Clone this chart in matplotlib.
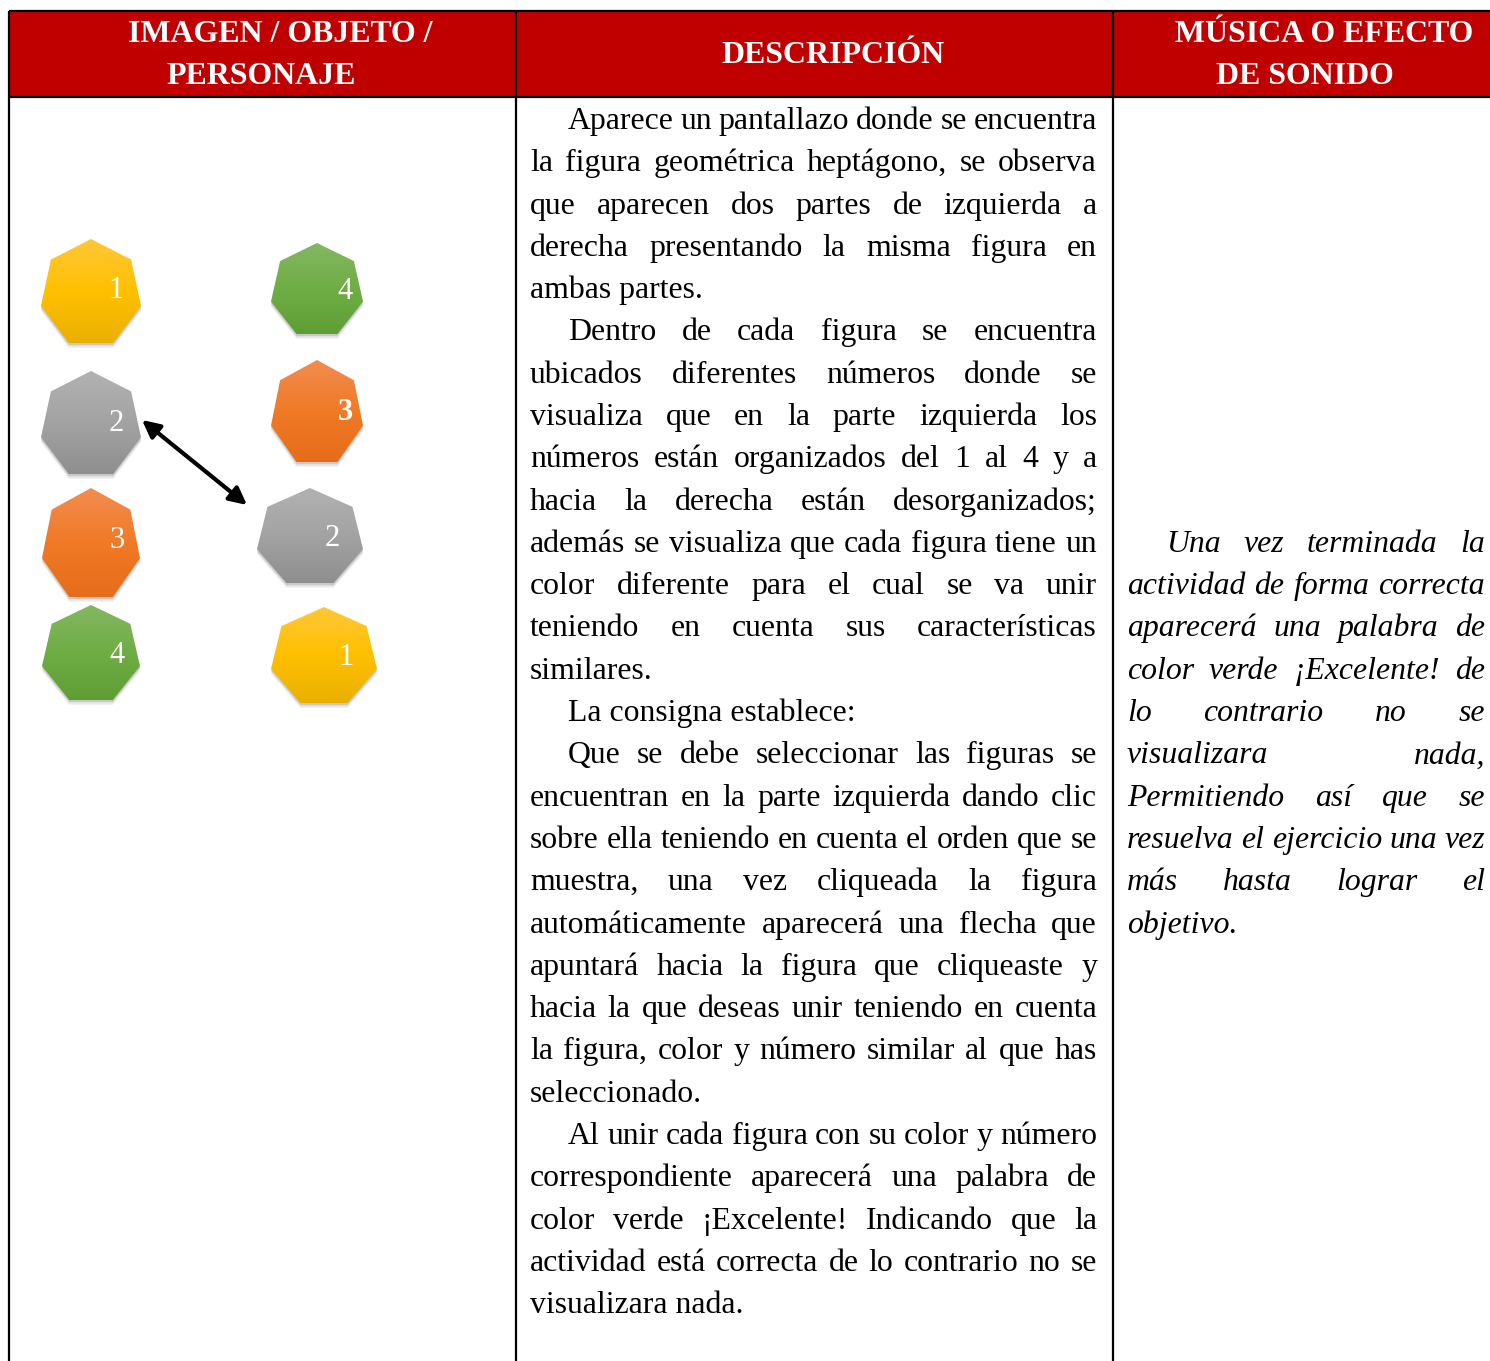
import numpy as np
import matplotlib
matplotlib.use("Agg")
import matplotlib.pyplot as plt
from matplotlib.patches import Polygon, Rectangle
from matplotlib.colors import LinearSegmentedColormap, to_rgb

W, H = 1490, 1361
FONT = "Liberation Serif"

HEADERS = [
    ["IMAGEN / OBJETO /", "PERSONAJE"],
    ["DESCRIPCIÓN"],
    ["MÚSICA O EFECTO", "DE SONIDO"],
]

DESCRIPTION = [
    ["Aparece un pantallazo donde se encuentra",
     "la figura geométrica heptágono, se observa",
     "que aparecen dos partes de izquierda a",
     "derecha presentando la misma figura en",
     "ambas partes."],
    ["Dentro de cada figura se encuentra",
     "ubicados diferentes números donde se",
     "visualiza que en la parte izquierda los",
     "números están organizados del 1 al 4 y a",
     "hacia la derecha están desorganizados;",
     "además se visualiza que cada figura tiene un",
     "color diferente para el cual se va unir",
     "teniendo en cuenta sus características",
     "similares."],
    ["La consigna establece:"],
    ["Que se debe seleccionar las figuras se",
     "encuentran en la parte izquierda dando clic",
     "sobre ella teniendo en cuenta el orden que se",
     "muestra, una vez cliqueada la figura",
     "automáticamente aparecerá una flecha que",
     "apuntará hacia la figura que cliqueaste y",
     "hacia la que deseas unir teniendo en cuenta",
     "la figura, color y número similar al que has",
     "seleccionado."],
    ["Al unir cada figura con su color y número",
     "correspondiente aparecerá una palabra de",
     "color verde ¡Excelente! Indicando que la",
     "actividad está correcta de lo contrario no se",
     "visualizara nada."],
]

EFFECT = [
    ["Una vez terminada la",
     "actividad de forma correcta",
     "aparecerá una palabra de",
     "color verde ¡Excelente! de",
     "lo contrario no se",
     "visualizara nada,",
     "Permitiendo así que se",
     "resuelva el ejercicio una vez",
     "más hasta lograr el",
     "objetivo."],
]

SHAPE_LABELS = ["1", "2", "3", "4", "4", "3", "2", "1"]
SHAPE_COLORS = ["yellow", "gray", "orange", "green", "green", "orange", "gray", "yellow"]
SHAPE_BOLD = [False, False, False, False, False, True, False, False]

# layout (pixels): left, top, right, bottom of each heptagon, label position
SHAPE_BOXES = [(41, 239, 141, 343), (41, 371, 141, 474), (42, 488, 140, 597), (42, 605, 140, 700),
               (271, 243, 363, 334), (271, 360, 363, 462), (257, 488, 363, 583), (271, 607, 377, 703)]
LABEL_POS = [(116, 290), (116, 423), (117, 540), (117, 655),
             (345, 291), (345, 412), (332, 538), (346, 657)]

GRADIENTS = {
    "yellow": ("#FFC73A", "#FFC000", "#E9B000"),
    "gray": ("#B2B2B2", "#A3A3A3", "#8E8E8E"),
    "orange": ("#F28D52", "#F07A26", "#E56C1A"),
    "green": ("#84B862", "#6FAD45", "#5E9C34"),
}

RED = "#C00000"
COL_X = [9, 516, 1113, 1490]
HEAD_TOP, HEAD_BOT = 11, 97
LINE_STEP = 42.29
FIRST_BASELINE = 129


def heptagon(l, t, r, b):
    rx = (r - l) / (2 * 0.9749)
    ry = (b - t) / (1 + np.cos(np.pi / 7))
    cx, cy = (l + r) / 2, t + ry
    ang = np.radians(90 + np.arange(7) * 360 / 7)
    return np.column_stack([cx + rx * np.cos(ang), cy - ry * np.sin(ang)])


def gradient_image(colors):
    cmap = LinearSegmentedColormap.from_list("g", [to_rgb(c) for c in colors])
    return cmap(np.linspace(0, 1, 100))[:, None, :]


def place_line(ax, renderer, text, x0, x1, y, justify, **kw):
    words = text.split()
    if not justify or len(words) < 2:
        ax.text(x0, y, text, ha="left", va="baseline", **kw)
        return
    items = [ax.text(0, y, w, ha="left", va="baseline", **kw) for w in words]
    widths = [t.get_window_extent(renderer).width for t in items]
    gap = (x1 - x0 - sum(widths)) / (len(words) - 1)
    x = x0
    for t, w in zip(items, widths):
        t.set_x(x)
        x += w + gap


def draw_paragraphs(ax, renderer, paragraphs, x0, x1, indent, first_line, **kw):
    i = first_line
    for para in paragraphs:
        for j, line in enumerate(para):
            start = x0 + (indent if j == 0 else 0)
            last = j == len(para) - 1
            place_line(ax, renderer, line, start, x1, FIRST_BASELINE + LINE_STEP * i, not last, **kw)
            i += 1


def fit_size(ax, renderer, text, target, **kw):
    t = ax.text(0, 0, text, fontsize=20, **kw)
    w = t.get_window_extent(renderer).width
    t.remove()
    return 20 * target / w


fig = plt.figure(figsize=(W / 100, H / 100), dpi=100)
ax = fig.add_axes([0, 0, 1, 1])
ax.set_xlim(0, W)
ax.set_ylim(H, 0)
ax.axis("off")
renderer = fig.canvas.get_renderer()

# header
ax.add_patch(Rectangle((COL_X[0], HEAD_TOP), COL_X[3] - COL_X[0], HEAD_BOT - HEAD_TOP,
                       facecolor=RED, edgecolor="none", zorder=1))
head_fs = fit_size(ax, renderer, "DESCRIPCIÓN", 222, family=FONT, weight="bold")
head_pos = [[(280, 34), (261, 76)], [(833, 55)], [(1324, 34), (1305, 76)]]
for lines, pos in zip(HEADERS, head_pos):
    for s, (x, y) in zip(lines, pos):
        ax.text(x, y, s, ha="center", va="center", color="white", fontsize=head_fs,
                family=FONT, weight="bold", zorder=3)

# grid lines
for x in COL_X[:3]:
    ax.plot([x, x], [HEAD_TOP, H + 5], color="black", lw=1.6, zorder=4, solid_capstyle="butt")
for y in (HEAD_TOP, HEAD_BOT):
    ax.plot([COL_X[0], W + 5], [y, y], color="black", lw=1.6, zorder=4, solid_capstyle="butt")

# body text
body_fs = fit_size(ax, renderer, "La consigna establece:", 288, family=FONT)
draw_paragraphs(ax, renderer, DESCRIPTION, 530, 1097, 38, 0, fontsize=body_fs, family=FONT, color="black")
draw_paragraphs(ax, renderer, EFFECT, 1127, 1485, 39, 10, fontsize=body_fs, family=FONT,
                style="italic", color="black")

# heptagons
for box, color in zip(SHAPE_BOXES, SHAPE_COLORS):
    pts = heptagon(*box)
    for k, a in ((5, 0.05), (3.5, 0.07), (2, 0.1)):
        ax.add_patch(Polygon(pts + [0, k], closed=True, facecolor="black", edgecolor="none",
                             alpha=a, zorder=2))
    poly = Polygon(pts, closed=True, facecolor="none", edgecolor="none", zorder=3)
    ax.add_patch(poly)
    l, t, r, b = box
    im = ax.imshow(gradient_image(GRADIENTS[color]), extent=(l - 2, r + 2, b + 2, t - 2),
                   origin="upper", aspect="auto", zorder=3, interpolation="bilinear")
    im.set_clip_path(poly)

for lab, (x, y), bold in zip(SHAPE_LABELS, LABEL_POS, SHAPE_BOLD):
    ax.text(x, y, lab, ha="center", va="center", color="white", fontsize=22, family=FONT,
            weight="bold" if bold else "normal", zorder=5)

ax.annotate("", xy=(142, 420), xytext=(247, 505),
            arrowprops=dict(arrowstyle="<|-|>", color="black", lw=3, mutation_scale=26,
                            shrinkA=0, shrinkB=0), zorder=6)

ax.set_xlim(0, W)
ax.set_ylim(H, 0)
fig.savefig("out.png", dpi=100)
